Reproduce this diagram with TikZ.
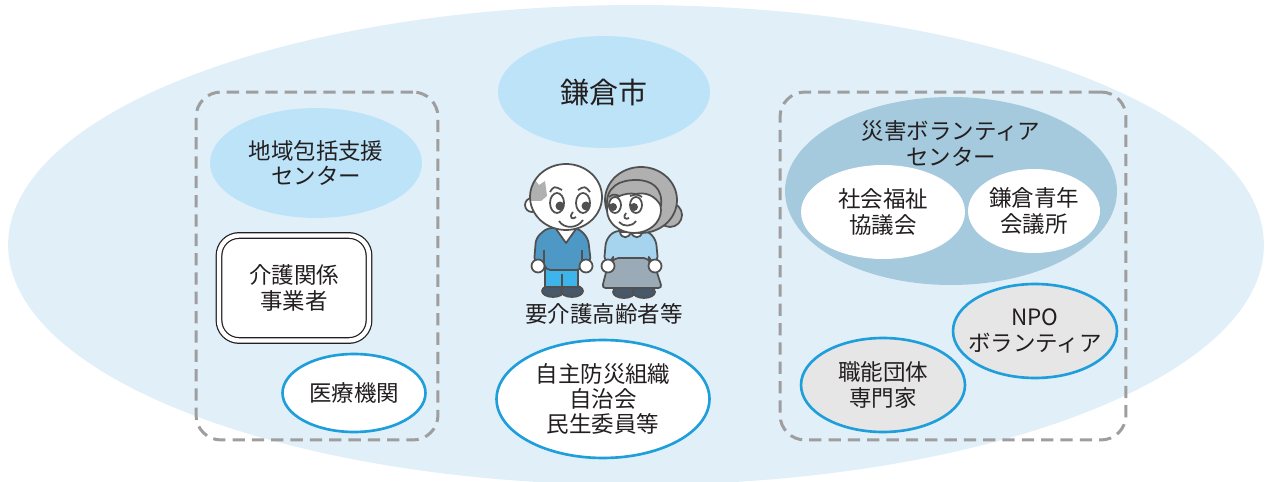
\documentclass[tikz,border=0pt]{standalone}
\usepackage{fontspec}
\setmainfont{Noto Sans CJK JP}
\usetikzlibrary{shapes.geometric,positioning}

\definecolor{bgblue}{HTML}{E0EFF8}
\definecolor{cityblue}{HTML}{BDE3F8}
\definecolor{vcblue}{HTML}{A5C9DD}
\definecolor{ring}{HTML}{1E9EDB}
\definecolor{dashgray}{HTML}{9E9E9E}
\definecolor{npogray}{HTML}{E6E6E6}
\definecolor{ink}{HTML}{231F20}
\definecolor{figgray}{HTML}{505050}
\definecolor{hair}{HTML}{B0B0B0}
\definecolor{shoe}{HTML}{46586A}
\definecolor{pants}{HTML}{3EB5EA}
\definecolor{sweater}{HTML}{4D98C5}
\definecolor{blouse}{HTML}{A6D3EE}
\definecolor{skirt}{HTML}{9AABB7}

\begin{document}
\begin{tikzpicture}[
  x = 0.02cm, y = -0.02cm,
  every node/.style = {font = \fontsize{12.8}{14.4}\selectfont, text = ink, align = center},
  oval/.style = {ellipse, inner sep = -6pt},
  ringed/.style = {oval, draw = ring, line width = 1.5pt},
  groupbox/.style = {draw = dashgray, line width = 1.7pt, dash pattern = on 7pt off 4pt,
                     rounded corners = 0.5cm, minimum height = 6.96cm},
  fig/.style = {draw = figgray, line width = 1pt, line join = round},
  ]
  \useasboundingbox (0,0) rectangle (1266,482);
  \fill[bgblue] (636,245) ellipse [x radius = 12.56cm, y radius = 4.8cm];

  % city in the middle
  \node[oval, fill = cityblue, minimum width = 4.24cm, minimum height = 2.24cm,
        font = \fontsize{16.5}{18}\selectfont] (city) at (604,92) {鎌倉市};

  % left group
  \node[groupbox, minimum width = 4.84cm] (leftgroup) at (317,266) {};
  \node[oval, fill = cityblue, minimum width = 4.24cm, minimum height = 2.2cm]
    (chiiki) at (316,163) {地域包括支援\\センター};
  \node[draw = ink, line width = 0.7pt, double = white, double distance = 2.5pt,
        fill = white, rounded corners = 0.4cm, minimum width = 3cm, minimum height = 2.1cm]
    (kaigo) at (294,288) {介護関係\\事業者};
  \node[ringed, fill = white, minimum width = 2.86cm, minimum height = 1.56cm]
    (iryo) at (354,393) {医療機関};

  % right group
  \node[groupbox, minimum width = 6.92cm] (rightgroup) at (953,266) {};
  \node[oval, fill = vcblue, minimum width = 6.64cm, minimum height = 3.76cm]
    (saigai) at (951,191) {};
  \node[below = 0.36cm of saigai.north] (saigaititle) {災害ボランティア\\センター};
  \node[oval, fill = white, minimum width = 3.28cm, minimum height = 1.88cm]
    (shakyo) at (883,212) {社会福祉\\協議会};
  \node[oval, fill = white, minimum width = 2.64cm, minimum height = 1.68cm]
    (seinen) at (1034,211) {鎌倉青年\\会議所};
  \node[ringed, fill = npogray, minimum width = 3.28cm, minimum height = 1.88cm]
    (npo) at (1035,331) {NPO\\ボランティア};
  \node[ringed, fill = npogray, minimum width = 3.28cm, minimum height = 1.88cm]
    (shokuno) at (883,385) {職能団体\\専門家};

  % centre bottom
  \node[ringed, fill = white, minimum width = 4.26cm, minimum height = 2.36cm]
    (jishu) at (603,399) {自主防災組織\\自治会\\民生委員等};
  \node (yokaigo) at (604,314) {要介護高齢者等};

  % old woman (drawn first, the man's head overlaps her hair)
  \filldraw[fig, fill = shoe] (624,292) ellipse [x radius = 0.22cm, y radius = 0.12cm];
  \filldraw[fig, fill = shoe] (644,292) ellipse [x radius = 0.22cm, y radius = 0.12cm];
  \filldraw[fig, fill = skirt, rounded corners = 2pt]
    (610,257) -- (652,257) -- (662,288) -- (602,288) -- cycle;
  \filldraw[fig, fill = blouse, rounded corners = 3pt]
    (630,231) -- (648,231) -- (656,240) -- (658,262) -- (650,262) -- (649,258)
    -- (613,258) -- (612,262) -- (604,262) -- (606,240) -- (614,231) -- cycle;
  \filldraw[fig, fill = white] (620,232) .. controls (621,239) and (629,239) .. (631,232) -- cycle;
  \filldraw[fig, fill = white] (631,232) .. controls (633,239) and (641,239) .. (642,232) -- cycle;
  \filldraw[fig, fill = white] (608,266) circle [radius = 0.13cm];
  \filldraw[fig, fill = white] (655,266) circle [radius = 0.13cm];
  \filldraw[fig, fill = hair] (670,215) circle [radius = 0.24cm];
  \filldraw[fig, fill = hair] (641,200) ellipse [x radius = 0.72cm, y radius = 0.66cm];
  \filldraw[fig, fill = white] (634,210) ellipse [x radius = 0.54cm, y radius = 0.46cm];
  \filldraw[fig, fill = hair]
    (607,208) .. controls (605,186) and (620,180) .. (636,180)
    .. controls (652,180) and (663,188) .. (661,206)
    .. controls (655,195) and (645,192) .. (636,194)
    .. controls (625,192) and (612,197) .. (607,208) -- cycle;
  \filldraw[fig, fill = white] (615,205) ellipse [x radius = 0.12cm, y radius = 0.16cm];
  \filldraw[fig, fill = white] (636,205) ellipse [x radius = 0.12cm, y radius = 0.16cm];
  \fill[figgray] (613,207) circle [radius = 0.08cm];
  \fill[figgray] (634,207) circle [radius = 0.08cm];
  \draw[fig] (609,197) .. controls (613,194) .. (620,196);
  \draw[fig] (630,196) .. controls (637,194) .. (642,197);
  \draw[fig] (626,213) .. controls (622,218) and (626,220) .. (629,218);
  \draw[fig] (619,222) .. controls (623,227) and (632,227) .. (636,221);

  % old man
  \filldraw[fig, fill = shoe] (553,291) ellipse [x radius = 0.22cm, y radius = 0.12cm];
  \filldraw[fig, fill = shoe] (572,291) ellipse [x radius = 0.22cm, y radius = 0.12cm];
  \filldraw[fig, fill = pants] (545,264) rectangle (578,287);
  \draw[fig] (562,274) -- (562,287);
  \filldraw[fig, fill = sweater, rounded corners = 3pt]
    (562,228) -- (578,228) -- (588,238) -- (591,263) -- (583,263) -- (582,270)
    -- (545,270) -- (544,263) -- (534,263) -- (536,238) -- (547,228) -- cycle;
  \filldraw[fig, fill = white] (556,229) -- (566,243) -- (576,229) -- cycle;
  \draw[fig] (544,250) -- (544,263);
  \draw[fig] (582,250) -- (582,263);
  \filldraw[fig, fill = white] (538,266) circle [radius = 0.13cm];
  \filldraw[fig, fill = white] (586,266) circle [radius = 0.13cm];
  \filldraw[fig, fill = white] (532,205) circle [radius = 0.14cm];
  \fill[white] (566,197) ellipse [x radius = 0.72cm, y radius = 0.66cm];
  \begin{scope}
    \clip (566,197) ellipse [x radius = 0.72cm, y radius = 0.66cm];
    \fill[hair] (526,184) -- (535,180) -- (539,185) -- (545,181) -- (547,196)
      -- (541,201) -- (526,201) -- cycle;
  \end{scope}
  \draw[fig] (566,197) ellipse [x radius = 0.72cm, y radius = 0.66cm];
  \filldraw[fig, fill = white] (557,203) ellipse [x radius = 0.14cm, y radius = 0.2cm];
  \filldraw[fig, fill = white] (583,203) ellipse [x radius = 0.14cm, y radius = 0.2cm];
  \fill[figgray] (560,206) circle [radius = 0.09cm];
  \fill[figgray] (586,206) circle [radius = 0.09cm];
  \draw[fig] (550,192) .. controls (554,186) .. (562,190);
  \draw[fig] (578,190) .. controls (585,186) .. (590,192);
  \draw[fig] (573,212) .. controls (568,218) and (573,220) .. (576,217);
  \draw[fig] (559,221) .. controls (564,229) and (577,229) .. (583,220);
\end{tikzpicture}
\end{document}
